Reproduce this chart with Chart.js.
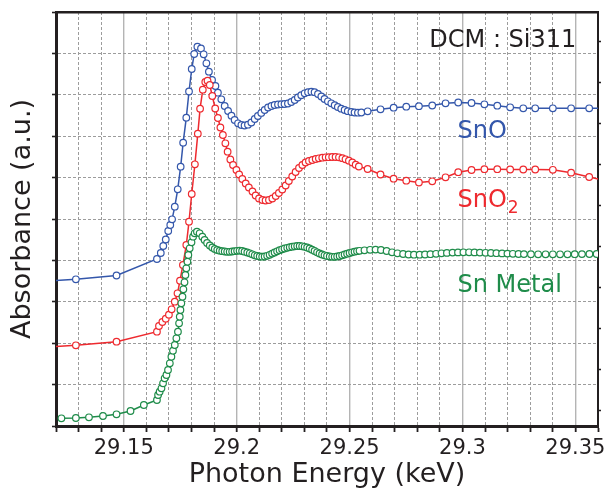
<!DOCTYPE html>
<html>
<head>
<meta charset="utf-8">
<script src="https://cdn.jsdelivr.net/npm/chart.js@4/dist/chart.umd.min.js"></script>
<style>
  html, body { margin: 0; padding: 0; background: #ffffff; }
  #wrap { width: 615px; height: 491px; position: relative; }
  canvas { display: block; }
</style>
</head>
<body>
<div id="wrap"><canvas id="c" width="615" height="491"></canvas></div>
<script>
// ---------------- data ----------------
const xTickLabels = ['29.15', '29.2', '29.25', '29.3', '29.35'];

const snoEnergy = [29.1109,29.1288,29.1468,29.1647,29.1664,29.1675,29.1686,29.1697,29.1706,29.1714,
  29.1726,29.1739,29.1752,29.1763,29.1777,29.1789,29.1801,29.1812,29.1826,29.1842,
  29.1854,29.1866,29.1877,29.1891,29.1906,29.1917,29.1932,29.1947,29.1962,29.1977,
  29.1991,29.2006,29.2021,29.2035,29.2050,29.2065,29.2080,29.2094,29.2109,29.2124,
  29.2139,29.2154,29.2168,29.2183,29.2198,29.2212,29.2227,29.2242,29.2257,29.2271,
  29.2286,29.2301,29.2316,29.2331,29.2345,29.2360,29.2375,29.2389,29.2404,29.2419,
  29.2434,29.2448,29.2463,29.2478,29.2492,29.2508,29.2522,29.2537,29.2552,29.2580,
  29.2637,29.2695,29.2751,29.2807,29.2866,29.2925,29.2981,29.3040,29.3097,29.3154,
  29.3211,29.3269,29.3322,29.3400,29.3481,29.3561,29.3641];
const snoAbs = [3.478,3.544,3.635,4.034,4.179,4.348,4.505,4.710,4.855,4.993,
  5.297,5.717,6.263,6.843,7.447,8.080,8.623,8.986,9.162,9.119,
  8.978,8.761,8.558,8.358,8.213,8.051,7.891,7.730,7.609,7.495,
  7.391,7.312,7.271,7.259,7.278,7.331,7.416,7.488,7.561,7.633,
  7.693,7.730,7.754,7.766,7.773,7.778,7.790,7.826,7.875,7.935,
  7.991,8.036,8.063,8.075,8.063,8.019,7.959,7.899,7.843,7.795,
  7.747,7.705,7.664,7.633,7.604,7.585,7.573,7.568,7.573,7.602,
  7.650,7.689,7.713,7.725,7.742,7.795,7.814,7.802,7.771,7.737,
  7.698,7.674,7.674,7.674,7.674,7.674,7.674];

const sno2Energy = [29.1109,29.1288,29.1468,29.1647,29.1656,29.1671,29.1686,29.1700,29.1712,29.1726,
  29.1738,29.1749,29.1762,29.1777,29.1789,29.1801,29.1815,29.1828,29.1838,29.1850,
  29.1861,29.1871,29.1881,29.1892,29.1905,29.1917,29.1928,29.1939,29.1950,29.1960,
  29.1972,29.1984,29.1999,29.2011,29.2025,29.2040,29.2054,29.2070,29.2084,29.2099,
  29.2114,29.2128,29.2143,29.2158,29.2173,29.2187,29.2202,29.2217,29.2231,29.2246,
  29.2261,29.2276,29.2291,29.2305,29.2320,29.2335,29.2350,29.2364,29.2379,29.2394,
  29.2408,29.2423,29.2438,29.2453,29.2468,29.2482,29.2497,29.2512,29.2527,29.2541,
  29.2580,29.2637,29.2695,29.2751,29.2807,29.2866,29.2925,29.2981,29.3040,29.3097,
  29.3154,29.3211,29.3269,29.3322,29.3400,29.3481,29.3561,29.3641];
const sno2Abs = [1.896,1.949,2.036,2.278,2.416,2.512,2.592,2.688,2.819,3.002,
  3.205,3.510,3.889,4.372,4.935,5.604,6.321,7.061,7.664,8.123,
  8.309,8.341,8.237,7.971,7.669,7.440,7.210,7.029,6.829,6.626,
  6.437,6.304,6.184,6.075,5.966,5.858,5.761,5.664,5.568,5.495,
  5.459,5.447,5.459,5.495,5.556,5.628,5.713,5.809,5.918,6.027,
  6.135,6.232,6.304,6.365,6.401,6.425,6.449,6.466,6.481,6.490,
  6.493,6.498,6.498,6.490,6.469,6.442,6.408,6.365,6.312,6.268,
  6.208,6.075,5.974,5.925,5.882,5.911,6.007,6.130,6.184,6.203,
  6.203,6.196,6.196,6.196,6.189,6.119,6.015,5.918];

const snEnergy = [29.1224,29.1288,29.1346,29.1408,29.1468,29.1530,29.1589,29.1647,29.1652,29.1659,
  29.1667,29.1674,29.1681,29.1689,29.1696,29.1704,29.1711,29.1718,29.1726,29.1733,
  29.1740,29.1745,29.1748,29.1751,29.1755,29.1760,29.1764,29.1769,29.1773,29.1777,
  29.1782,29.1786,29.1792,29.1800,29.1807,29.1814,29.1824,29.1836,29.1848,29.1858,
  29.1869,29.1881,29.1892,29.1903,29.1914,29.1925,29.1936,29.1947,29.1958,29.1969,
  29.1980,29.1991,29.2002,29.2013,29.2024,29.2035,29.2047,29.2058,29.2069,29.2080,
  29.2091,29.2102,29.2113,29.2124,29.2135,29.2146,29.2157,29.2168,29.2179,29.2190,
  29.2201,29.2212,29.2224,29.2235,29.2246,29.2257,29.2268,29.2279,29.2290,29.2301,
  29.2312,29.2323,29.2334,29.2345,29.2356,29.2367,29.2378,29.2389,29.2400,29.2412,
  29.2423,29.2434,29.2445,29.2456,29.2467,29.2478,29.2489,29.2500,29.2511,29.2522,
  29.2533,29.2544,29.2566,29.2591,29.2615,29.2639,29.2664,29.2688,29.2712,29.2737,
  29.2761,29.2785,29.2810,29.2834,29.2858,29.2883,29.2907,29.2931,29.2956,29.2980,
  29.3004,29.3029,29.3053,29.3077,29.3102,29.3126,29.3150,29.3175,29.3199,29.3223,
  29.3248,29.3272,29.3303,29.3335,29.3368,29.3400,29.3432,29.3465,29.3497,29.3529,
  29.3562,29.3594];
const snAbs = [0.186,0.193,0.210,0.242,0.283,0.362,0.507,0.628,0.749,0.829,
  0.911,1.031,1.152,1.232,1.353,1.515,1.674,1.819,1.957,2.118,
  2.278,2.481,2.640,2.802,2.964,3.123,3.302,3.471,3.647,3.809,
  3.969,4.131,4.292,4.437,4.573,4.655,4.693,4.655,4.573,4.493,
  4.420,4.360,4.312,4.275,4.251,4.234,4.222,4.215,4.208,4.208,
  4.215,4.222,4.232,4.234,4.227,4.210,4.191,4.172,4.147,4.123,
  4.106,4.094,4.089,4.094,4.111,4.135,4.164,4.191,4.220,4.246,
  4.268,4.288,4.304,4.319,4.331,4.341,4.348,4.348,4.341,4.329,
  4.312,4.288,4.259,4.227,4.196,4.167,4.143,4.123,4.106,4.094,
  4.087,4.087,4.094,4.106,4.123,4.143,4.162,4.179,4.196,4.210,
  4.222,4.232,4.244,4.256,4.261,4.251,4.227,4.196,4.172,4.155,
  4.143,4.138,4.138,4.143,4.150,4.159,4.172,4.181,4.188,4.193,
  4.196,4.196,4.193,4.188,4.184,4.179,4.174,4.169,4.164,4.159,
  4.155,4.152,4.150,4.147,4.147,4.147,4.147,4.147,4.150,4.152,
  4.155,4.155];

// ---------------- styling ----------------
const BLUE = '#3457ab', RED = '#ee2a2f', GREEN = '#1f8c4a', INK = '#231f20';
const FONT = '"DejaVu Sans", Verdana, sans-serif';
const X_MIN = 29.12, X_MAX = 29.36, Y_MIN = 0, Y_MAX = 10;

const textLabels = [
  { text: 'DCM : Si311', x: 29.3504, y: 9.162, color: INK, align: 'right' },
  { text: 'SnO', x: 29.2978, y: 6.949, color: BLUE, align: 'left' },
  { text: 'SnO', sub: '2', x: 29.2978, y: 5.297, color: RED, align: 'left' },
  { text: 'Sn Metal', x: 29.2978, y: 3.237, color: GREEN, align: 'left' }
];

function pairs(xs, ys) {
  const n = Math.min(xs.length, ys.length);
  const out = [];
  for (let i = 0; i < n; i++) out.push({ x: xs[i], y: ys[i] });
  return out;
}
function series(label, xs, ys, color) {
  return {
    label, data: pairs(xs, ys), showLine: true, tension: 0,
    borderColor: color, borderWidth: 1.5,
    pointRadius: 3.3, pointBorderWidth: 1.2,
    pointBackgroundColor: '#ffffff', pointBorderColor: color,
    pointHoverRadius: 3.3
  };
}
const isMajor = v => { const k = Math.round(v * 100); return k % 5 === 0; };
const isEdge = (v, a, b) => Math.abs(v - a) < 1e-6 || Math.abs(v - b) < 1e-6;

const labelPlugin = {
  id: 'textLabels',
  afterDatasetsDraw(chart) {
    const { ctx } = chart;
    const xs = chart.scales.x, ys = chart.scales.y;
    ctx.save();
    ctx.textBaseline = 'alphabetic';
    for (const t of textLabels) {
      const px = xs.getPixelForValue(t.x), py = ys.getPixelForValue(t.y);
      ctx.fillStyle = t.color;
      ctx.font = '24px ' + FONT;
      ctx.textAlign = t.align || 'left';
      ctx.fillText(t.text, px, py);
      if (t.sub) {
        const w = ctx.measureText(t.text).width;
        ctx.font = '17px ' + FONT;
        ctx.textAlign = 'left';
        ctx.fillText(t.sub, px + w + 1, py + 6.3);
      }
    }
    ctx.restore();
  }
};

Chart.defaults.font.family = FONT;

new Chart(document.getElementById('c'), {
  type: 'scatter',
  data: {
    datasets: [
      series('Sn Metal', snEnergy, snAbs, GREEN),
      series('SnO2', sno2Energy, sno2Abs, RED),
      series('SnO', snoEnergy, snoAbs, BLUE)
    ]
  },
  options: {
    responsive: false,
    animation: false,
    events: [],
    layout: { padding: 0 },
    plugins: { legend: { display: false }, tooltip: { enabled: false } },
    scales: {
      x: {
        type: 'linear', position: 'bottom', min: X_MIN, max: X_MAX,
        afterFit: s => { s.height = 65; },
        ticks: {
          stepSize: 0.01, autoSkip: false, maxRotation: 0, minRotation: 0, includeBounds: false,
          color: INK, font: { size: 21 }, padding: 4,
          callback: v => {
            if (!isMajor(v)) return '';
            const k = Math.round(v * 100) / 100;
            const s = String(+k.toFixed(2));
            return xTickLabels.includes(s) ? s : '';
          }
        },
        grid: {
          color: c => (c.tick && isEdge(c.tick.value, X_MIN, X_MAX)) ? 'rgba(0,0,0,0)'
                    : (c.tick && isMajor(c.tick.value) ? '#b4b4b4' : '#9c9c9c'),
          lineWidth: c => (c.tick && isMajor(c.tick.value)) ? 1.4 : 1,
          tickLength: 6, tickWidth: 1.8, tickColor: INK, tickBorderDash: []
        },
        border: {
          color: INK, width: 3,
          dash: c => (c.tick && !isMajor(c.tick.value)) ? [3, 2] : []
        },
        title: { display: true, text: 'Photon Energy (keV)', color: INK, font: { size: 27 }, padding: { top: 0, bottom: 0 } }
      },
      xTop: {
        type: 'linear', position: 'top', min: X_MIN, max: X_MAX,
        afterFit: s => { s.height = 12; },
        ticks: { display: false, stepSize: 0.05 },
        grid: { display: false },
        border: { display: true, color: INK, width: 2.5 }
      },
      y: {
        type: 'linear', position: 'left', min: Y_MIN, max: Y_MAX,
        afterFit: s => { s.width = 56; },
        ticks: { display: false, stepSize: 1, includeBounds: false },
        grid: {
          color: c => (c.tick && isEdge(c.tick.value, Y_MIN, Y_MAX)) ? 'rgba(0,0,0,0)' : '#9c9c9c',
          lineWidth: 1, tickLength: 4, tickWidth: 1.6, tickColor: INK, tickBorderDash: []
        },
        border: { color: INK, width: 3, dash: [3, 2] },
        title: { display: true, text: 'Absorbance (a.u.)', color: INK, font: { size: 27 }, padding: { top: 7, bottom: 0 } }
      },
      y2: {
        type: 'linear', position: 'right', min: -0.366, max: 9.724,
        afterFit: s => { s.width = 17; },
        ticks: { display: false, stepSize: 1, includeBounds: false },
        grid: { drawOnChartArea: false, tickLength: 3, tickWidth: 1.6, tickColor: INK, color: INK, tickBorderDash: [] },
        border: { color: INK, width: 2 }
      }
    }
  },
  plugins: [labelPlugin]
});
</script>
</body>
</html>
